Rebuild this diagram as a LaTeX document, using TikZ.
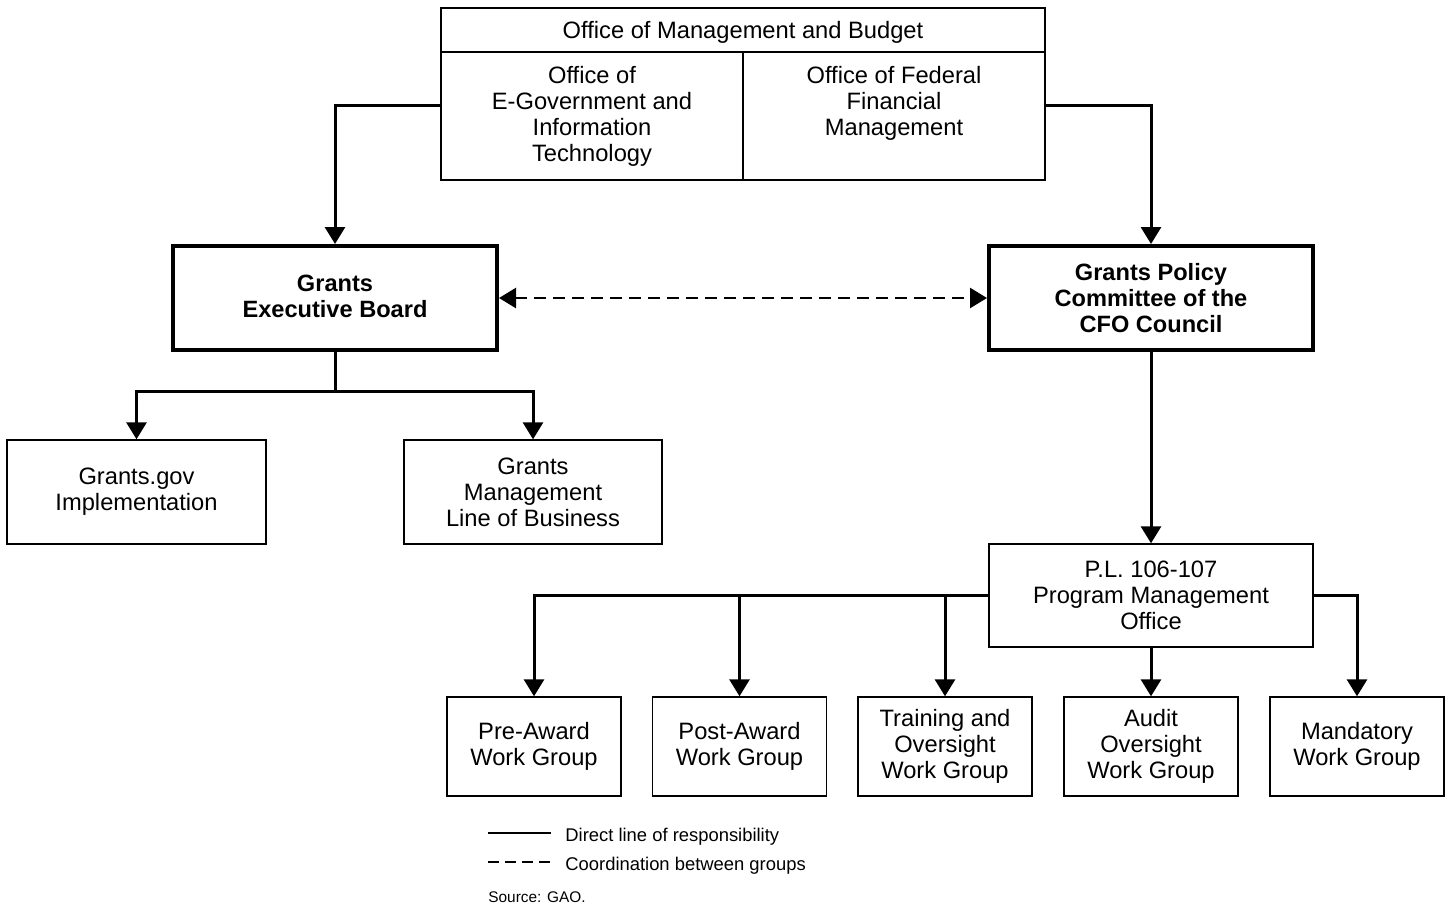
\documentclass[tikz,border=0pt]{standalone}
\usepackage{fontspec}
\setmainfont{Liberation Sans}
\usetikzlibrary{arrows.meta}
\begin{document}
\begin{tikzpicture}[x=0.5pt,y=-0.5pt,
  box/.style={draw, line width=0.7pt, inner sep=0pt, align=center, font=\fontsize{11.85}{13}\selectfont},
  tbox/.style={box, line width=2pt, font=\fontsize{11.8}{13}\selectfont\bfseries},
  txt/.style={inner sep=0pt, align=center, font=\fontsize{11.85}{13}\selectfont},
  conn/.style={line width=1.5pt},
  arr/.style={conn, -{Triangle[length=8.5pt,width=10pt]}},
  darr/.style={line width=1.25pt, dash pattern=on 6pt off 3.5pt, {Triangle[length=8.5pt,width=10pt]}-{Triangle[length=8.5pt,width=10pt]}},
  legtxt/.style={inner sep=0pt, anchor=west, font=\fontsize{9.2}{11}\selectfont},
  wg/.style={box, minimum width=87pt, minimum height=49.5pt}
]
\useasboundingbox (0,0) rectangle (1449,905);

% OMB block
\node[box, minimum width=302pt, minimum height=22pt] (ombh) at (743,30) {};
\node[txt] (ombt) at (743,32) {Office of Management and Budget};
\node[box, minimum width=151pt, minimum height=64pt] (egov) at (592,116) {};
\node[box, minimum width=151pt, minimum height=64pt] (ffm) at (894,116) {};
\node[txt] (egovt) at (592,116) {Office of\\E-Government and\\Information\\Technology};
\node[txt] (ffmt) at (894,103) {Office of Federal\\Financial\\Management};

% Boards
\node[tbox, minimum width=162pt, minimum height=52pt] (geb) at (335,298) {};
\node[inner sep=0pt, align=center, font=\fontsize{11.8}{13}\selectfont\bfseries] (gebt) at (335,296) {Grants\\Executive Board};
\node[tbox, minimum width=162pt, minimum height=52pt] (gpc) at (1151,298) {Grants Policy\\Committee of the\\CFO Council};

% Left children
\node[box, minimum width=129.5pt, minimum height=52pt] (ggov) at (136.5,492) {Grants.gov\\Implementation};
\node[box, minimum width=129pt, minimum height=52pt] (gmlob) at (533,492) {Grants\\Management\\Line of Business};

% PMO
\node[box, minimum width=162pt, minimum height=51.5pt] (pmo) at (1151,595.5) {P.L. 106-107\\Program Management\\Office};

% Work groups
\node[wg] (wg1) at (534,746.5) {Pre-Award\\Work Group};
\node[wg] (wg2) at (739.5,746.5) {Post-Award\\Work Group};
\node[wg] (wg3) at (945,746.5) {Training and\\Oversight\\Work Group};
\node[wg] (wg4) at (1151,746.5) {Audit\\Oversight\\Work Group};
\node[wg] (wg5) at (1357,746.5) {Mandatory\\Work Group};

% Connectors
\draw[arr] ([yshift=5.5pt]egov.west) -| (geb.north);
\draw[arr] ([yshift=5.5pt]ffm.east) -| (gpc.north);
\draw[darr] (geb.east) -- (gpc.west);

\coordinate (gebf) at (335,391);
\draw[conn] (geb.south) -- (gebf);
\draw[arr] (gebf) -| (ggov.north);
\draw[arr] (gebf) -| (gmlob.north);

\draw[arr] (gpc.south) -- (pmo.north);
\draw[arr] (pmo.west) -| (wg1.north);
\draw[arr] (pmo.west) -| (wg2.north);
\draw[arr] (pmo.west) -| (wg3.north);
\draw[arr] (pmo.south) -- (wg4.north);
\draw[arr] (pmo.east) -| (wg5.north);

% Legend
\coordinate (l1a) at (488,833);
\coordinate (l1b) at (551,833);
\coordinate (l2a) at (488,862);
\coordinate (l2b) at (551,862);
\draw[line width=1.4pt] (l1a) -- (l1b);
\draw[line width=1.4pt, dash pattern=on 5.5pt off 3pt] (l2a) -- (l2b);
\node[legtxt] (lt1) at (565,837) {Direct line of responsibility};
\node[legtxt] (lt2) at (565,866) {Coordination between groups};
\node[inner sep=0pt, anchor=west, font=\fontsize{7.7}{9}\selectfont] (src) at (488,897) {Source: GAO.};
\end{tikzpicture}
\end{document}
